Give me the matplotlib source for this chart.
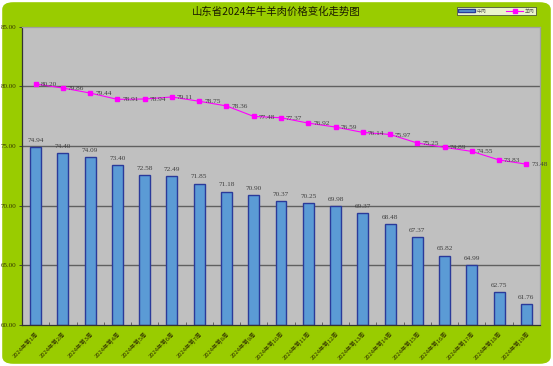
"""Shandong 2024 weekly beef/mutton price chart."""

import matplotlib

matplotlib.use("Agg")

import matplotlib.pyplot as plt
import numpy as np
from matplotlib.patches import FancyBboxPatch

plt.rcParams["font.family"] = ["Noto Sans CJK SC", "DejaVu Sans"]

TITLE = "山东省2024年牛羊肉价格变化走势图"
WEEKS = [f"2024年第{i}周" for i in range(1, 20)]
BEEF = [74.94, 74.40, 74.09, 73.40, 72.58, 72.49, 71.85, 71.18, 70.90, 70.37,
        70.25, 69.98, 69.37, 68.48, 67.37, 65.82, 64.99, 62.75, 61.76]
MUTTON = [80.20, 79.86, 79.44, 78.91, 78.94, 79.11, 78.75, 78.36, 77.48, 77.37,
          76.92, 76.59, 76.14, 75.97, 75.25, 74.89, 74.55, 73.83, 73.48]
Y_TICKS = [60, 65, 70, 75, 80, 85]

W, H = 553, 366
GREEN = "#99CC00"
NUM_FONT = "Liberation Serif"


def main() -> None:
    fig = plt.figure(figsize=(W / 100, H / 100), dpi=100, facecolor="white")
    # rounded green card behind everything
    card = FancyBboxPatch((0.004, 0.006), 0.992, 0.988, boxstyle="round,pad=0,rounding_size=0.02",
                          transform=fig.transFigure, facecolor=GREEN, edgecolor="none", zorder=-10)
    fig.patches.append(card)

    left, right, top, bottom = 22, 540, 26.7, 325
    ax = fig.add_axes([left / W, 1 - bottom / H, (right - left) / W, (bottom - top) / H])
    ax.set_facecolor("#C0C0C0")

    x = np.arange(len(WEEKS))
    ax.set_xlim(-0.5, len(WEEKS) - 0.5)
    ax.set_ylim(60, 85)

    for y in Y_TICKS[1:-1]:
        ax.axhline(y, color="#606060", lw=1.0, zorder=1)

    bars = ax.bar(x, [v - 60 for v in BEEF], bottom=60, width=0.4, color="#5B9BD5",
                  edgecolor="#2A3A9A", linewidth=1.0, zorder=2, label="牛肉")
    line, = ax.plot(x, MUTTON, color="#FF00FF", lw=0.8, marker="s", ms=3, zorder=3, label="羊肉")

    for xi, v in zip(x, BEEF):
        ax.text(xi, v + 0.35, f"{v:.2f}", ha="center", va="bottom", fontsize=5.2,
                color="#404040", family=NUM_FONT, zorder=4)
    for xi, v in zip(x, MUTTON):
        ax.text(xi + 0.18, v - 0.05, f"{v:.2f}", ha="left", va="center", fontsize=5.2,
                color="#404040", family=NUM_FONT, zorder=4)

    ax.set_yticks(Y_TICKS)
    ax.set_yticklabels([f"{v:.2f}" for v in Y_TICKS], family=NUM_FONT, fontsize=5,
                       color="#333300")
    ax.tick_params(axis="y", length=2, width=0.6, pad=2, color="#333333")

    ax.set_xticks(x)
    ax.set_xticklabels(WEEKS, rotation=45, ha="right", va="top", rotation_mode="anchor",
                       fontsize=4.2, color="#333300")
    ax.tick_params(axis="x", length=0, pad=4)
    ax.set_xticks(np.arange(len(WEEKS) + 1) - 0.5, minor=True)
    ax.tick_params(axis="x", which="minor", direction="in", length=2, width=0.6, color="#555555")

    for side in ["left", "bottom"]:
        ax.spines[side].set_color("#333333")
        ax.spines[side].set_linewidth(0.9)
    for side in ["top", "right"]:
        ax.spines[side].set_color("#A0A0A0")
        ax.spines[side].set_linewidth(0.9)

    fig.text(0.5, 1 - 12 / H, TITLE, ha="center", va="center", fontsize=7.5, color="#1A1A00")

    leg = fig.legend([bars, line], ["牛肉", "羊肉"], loc="upper right",
                     bbox_to_anchor=(538 / W, 1 - 5 / H), ncol=2,
                     fontsize=3.5, frameon=True, fancybox=False, borderpad=0.25,
                     handlelength=3.5, handleheight=0.6, columnspacing=4.0, handletextpad=0.3)
    leg.get_frame().set_edgecolor("#333333")
    leg.get_frame().set_linewidth(0.6)
    for t in leg.get_texts():
        t.set_color("#555555")

    fig.savefig("out.png", dpi=100, facecolor="white")
    plt.close(fig)


if __name__ == "__main__":
    main()
